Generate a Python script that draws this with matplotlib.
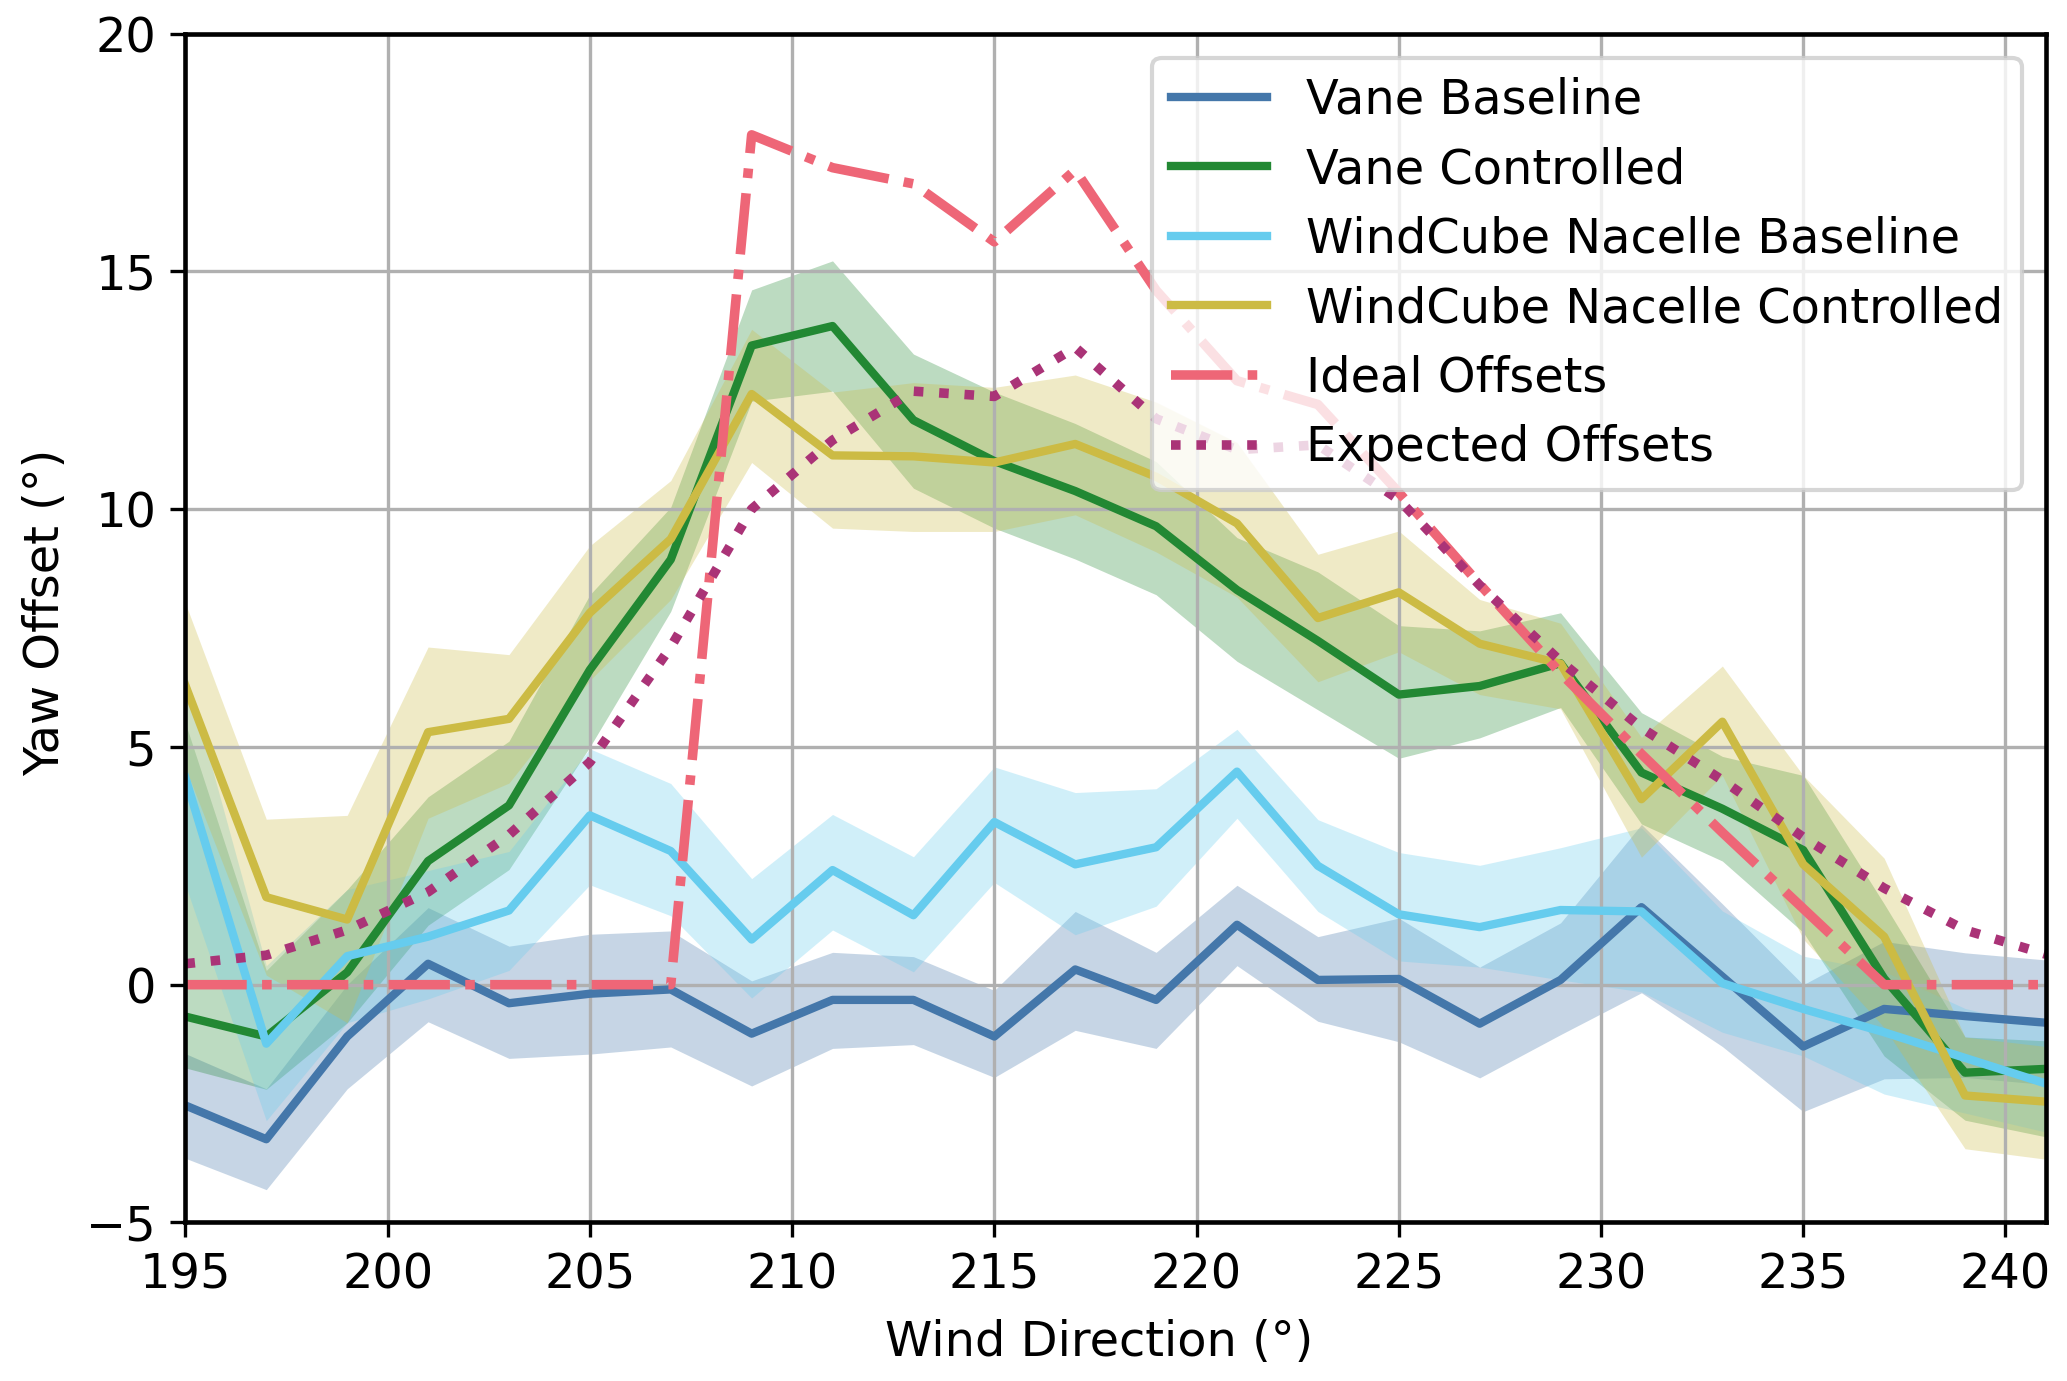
from matplotlib import pyplot as plt
import numpy as np

plt.rcParams['font.family'] = ['DejaVu Sans']
plt.rcParams['font.size'] = 11.5
plt.rcParams['axes.linewidth'] = 1.1

# wind direction bins (deg)
wind_dir = np.arange(195, 242, 2)

# Vane baseline
vane_base = [-2.54, -3.25, -1.09, 0.44, -0.39, -0.19, -0.10, -1.03, -0.32, -0.32, -1.09, 0.32,
             -0.32, 1.26, 0.10, 0.12, -0.82, 0.10, 1.63, 0.17, -1.30, -0.51, -0.66, -0.80]
vane_base_lo = [-3.65, -4.31, -2.19, -0.78, -1.55, -1.46, -1.31, -2.13, -1.34, -1.26, -1.95, -0.96,
                -1.34, 0.40, -0.77, -1.20, -1.96, -1.05, -0.17, -1.30, -2.67, -1.98, -1.95, -2.10]
vane_base_hi = [-1.45, -2.19, 0.00, 1.62, 0.81, 1.06, 1.13, 0.08, 0.68, 0.59, -0.12, 1.54,
                0.68, 2.09, 1.01, 1.40, 0.37, 1.30, 3.37, 1.70, 0.00, 0.91, 0.67, 0.52]

# Vane controlled
vane_ctrl = [-0.67, -1.09, 0.26, 2.60, 3.77, 6.62, 8.94, 13.44, 13.85, 11.87, 11.01, 10.38,
             9.64, 8.30, 7.23, 6.10, 6.28, 6.76, 4.46, 3.70, 2.83, 0.13, -1.85, -1.77]
vane_ctrl_lo = [-1.75, -2.20, -0.80, 1.25, 2.42, 5.00, 7.85, 12.27, 12.48, 10.44, 9.60, 8.95,
                8.20, 6.80, 5.78, 4.76, 5.19, 5.83, 3.38, 2.60, 1.10, -1.50, -2.85, -3.20]
vane_ctrl_hi = [5.50, 0.30, 2.00, 3.95, 5.12, 8.20, 10.04, 14.61, 15.22, 13.26, 12.46, 11.80,
                11.00, 9.40, 8.68, 7.55, 7.44, 7.82, 5.72, 4.80, 4.40, 1.70, -1.10, -1.18]

# WindCube nacelle baseline
wc_base = [4.35, -1.24, 0.60, 1.01, 1.56, 3.56, 2.81, 0.95, 2.41, 1.46, 3.42, 2.53,
           2.89, 4.48, 2.50, 1.48, 1.21, 1.57, 1.54, 0.03, -0.51, -1.00, -1.54, -2.08]
wc_base_lo = [2.10, -2.86, -0.80, -0.30, 0.30, 2.10, 1.45, -0.28, 1.15, 0.27, 2.15, 1.05,
              1.65, 3.50, 1.54, 0.50, 0.37, 0.10, -0.15, -1.00, -1.50, -2.30, -2.70, -3.10]
wc_base_hi = [6.60, 0.40, 2.00, 2.40, 2.80, 4.96, 4.23, 2.23, 3.58, 2.69, 4.58, 4.04,
              4.12, 5.37, 3.47, 2.78, 2.51, 2.88, 3.30, 1.55, 0.60, 0.28, -0.50, -0.90]

# WindCube nacelle controlled
wc_ctrl = [6.29, 1.84, 1.37, 5.31, 5.59, 7.82, 9.37, 12.42, 11.13, 11.11, 10.98, 11.37,
           10.68, 9.70, 7.71, 8.25, 7.17, 6.75, 3.90, 5.53, 2.53, 1.01, -2.33, -2.46]
wc_ctrl_lo = [4.56, 0.20, -0.80, 3.50, 4.24, 6.40, 8.10, 10.98, 9.60, 9.53, 9.53, 9.88,
              9.10, 8.15, 6.37, 7.00, 6.10, 5.80, 2.68, 4.40, 0.96, -0.90, -3.45, -3.67]
wc_ctrl_hi = [8.02, 3.48, 3.56, 7.10, 6.94, 9.23, 10.60, 13.78, 12.46, 12.66, 12.56, 12.82,
              12.25, 11.40, 9.05, 9.54, 8.10, 7.60, 5.20, 6.70, 4.40, 2.66, -1.10, -1.30]

# reference offsets
ideal_offsets = [0, 0, 0, 0, 0, 0, 0, 17.87, 17.18, 16.84, 15.62, 17.13,
                 14.60, 12.70, 12.20, 10.35, 8.42, 6.55, 4.85, 3.20, 1.60, 0, 0, 0]
expected_offsets = [0.44, 0.62, 1.15, 1.95, 3.15, 4.68, 7.10, 10.00, 11.45, 12.48, 12.37, 13.40,
                    11.90, 11.25, 11.35, 10.20, 8.40, 6.80, 5.40, 4.30, 3.10, 2.03, 1.15, 0.64]

series = [
    ('Vane Baseline', vane_base, vane_base_lo, vane_base_hi, '#4477AA'),
    ('Vane Controlled', vane_ctrl, vane_ctrl_lo, vane_ctrl_hi, '#228833'),
    ('WindCube Nacelle Baseline', wc_base, wc_base_lo, wc_base_hi, '#66CCEE'),
    ('WindCube Nacelle Controlled', wc_ctrl, wc_ctrl_lo, wc_ctrl_hi, '#CCBB44'),
]

fig = plt.figure(figsize=(2067 / 300, 1381 / 300), dpi=300)
ax = fig.add_axes([0.0897, 0.1148, 0.9898 - 0.0897, 0.9757 - 0.1148])

for label, y, lo, hi, color in series:
    ax.fill_between(wind_dir, lo, hi, color=color, alpha=0.3, linewidth=0)
    ax.plot(wind_dir, y, color=color, linewidth=2.0, label=label)

ax.plot(wind_dir, ideal_offsets, color='#EE6677', linestyle='-.', linewidth=2.3, label='Ideal Offsets')
ax.plot(wind_dir, expected_offsets, color='#AA3377', linestyle=':', linewidth=2.3, label='Expected Offsets')

ax.set_xlim(195, 241)
ax.set_ylim(-5, 20)
ax.set_xticks(np.arange(195, 241, 5))
ax.set_yticks(np.arange(-5, 21, 5))
ax.grid(True)
ax.set_xlabel('Wind Direction (°)', x=0.491, labelpad=5)
ax.set_ylabel('Yaw Offset (°)', y=0.513)
ax.legend(loc='upper right', labelspacing=0.47)

fig.savefig('out.png', dpi=300)
